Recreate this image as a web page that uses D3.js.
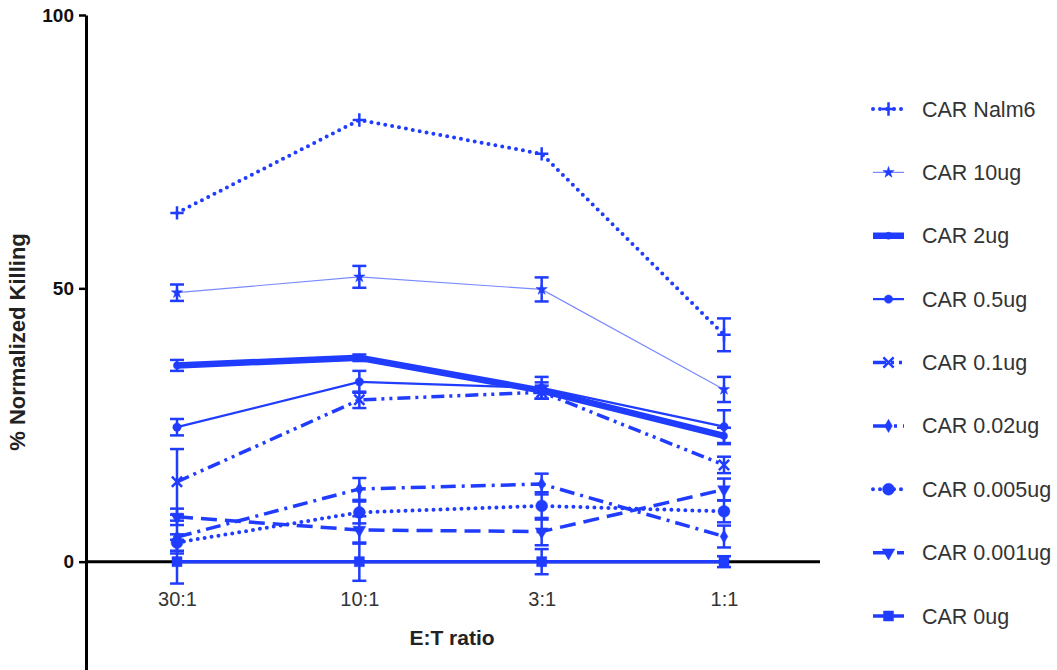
<!DOCTYPE html>
<html>
<head>
<meta charset="utf-8">
<script src="https://cdn.jsdelivr.net/npm/d3@7"></script>
<style>
  body { margin: 0; background: #fff; }
  text { font-family: "Liberation Sans", Arial, Helvetica, sans-serif; }
</style>
</head>
<body>
<div id="chart"></div>
<script>
// E:T ratios on the x axis
const categories = ["30:1", "10:1", "3:1", "1:1"];
const yTicks = [0, 50, 100];

// mean % normalized killing per series, and error (SEM) per point
const carNalm6 = [63.8, 80.8, 74.6, 41.5];
const carNalm6Err = [0, 0, 0, 3];
const car10ug = [49.2, 52.1, 49.8, 31.5];
const car10ugErr = [1.5, 2, 2.2, 2.3];
const car2ug = [35.9, 37.3, 31.3, 23.0];
const car2ugErr = [1, 0.6, 1.5, 1.5];
const car05ug = [24.6, 32.9, 31.8, 24.7];
const car05ugErr = [1.5, 2, 2, 3];
const car01ug = [14.6, 29.6, 31.0, 17.7];
const car01ugErr = [6, 1.5, 1.2, 1.5];
const car002ug = [4.5, 13.3, 14.2, 4.6];
const car002ugErr = [3, 2, 1.9, 2];
const car0005ug = [3.5, 9.0, 10.2, 9.2];
const car0005ugErr = [1.5, 2, 2.5, 2];
const car0001ug = [8.2, 5.8, 5.5, 13.2];
const car0001ugErr = [1.5, 2.5, 2.5, 2];
const car0ug = [0, 0, 0, 0];
const car0ugErr = [4, 3.5, 2.3, 1];

const names = ["CAR Nalm6", "CAR 10ug", "CAR 2ug", "CAR 0.5ug", "CAR 0.1ug",
               "CAR 0.02ug", "CAR 0.005ug", "CAR 0.001ug", "CAR 0ug"];
const values = [carNalm6, car10ug, car2ug, car05ug, car01ug, car002ug, car0005ug, car0001ug, car0ug];
const errors = [carNalm6Err, car10ugErr, car2ugErr, car05ugErr, car01ugErr, car002ugErr, car0005ugErr, car0001ugErr, car0ugErr];

const blue = "#1f3cff";

// line / marker look for each series (same order as names)
const styles = [
  { width: 4, dash: "0 7", cap: "round", sym: d3.symbolPlus, size: 60, stroke: true },
  { width: 1.2, dash: null, cap: "butt", sym: d3.symbolStar, size: 40, opacity: 0.6 },
  { width: 6.5, dash: null, cap: "butt", sym: d3.symbolCircle, size: 40 },
  { width: 2.2, dash: null, cap: "butt", sym: d3.symbolCircle, size: 55 },
  { width: 3.5, dash: "13 5 3 5 3 5", cap: "butt", sym: d3.symbolTimes, size: 70, stroke: true },
  { width: 3.5, dash: "15 6 3 6", cap: "butt", sym: d3.symbolDiamond, size: 50 },
  { width: 4, dash: "0 7", cap: "round", sym: d3.symbolCircle, size: 110 },
  { width: 3.5, dash: "16 8", cap: "butt", sym: d3.symbolTriangle, size: 70, rotate: 180 },
  { width: 3.5, dash: null, cap: "butt", sym: d3.symbolSquare, size: 100 }
];

const series = names.map((n, i) => ({
  name: n,
  points: categories.map((c, j) => ({ cat: c, v: values[i][j], e: errors[i][j] })),
  style: styles[i]
}));

const w = 1057, h = 670;

const svg = d3.select("#chart").append("svg")
  .attr("width", w)
  .attr("height", h)
  .style("background", "#fff");

const x = d3.scalePoint().domain(categories).range([177, 724]);
const y = d3.scaleLinear().domain([-20, 100]).range([671, 15]);

// x axis line at zero
svg.append("line")
  .attr("x1", 86).attr("x2", 820)
  .attr("y1", y(0)).attr("y2", y(0))
  .attr("stroke", "#000").attr("stroke-width", 3);

// y axis
const yAxis = svg.append("g")
  .attr("transform", "translate(86,0)")
  .call(d3.axisLeft(y).tickValues(yTicks).tickSize(7).tickSizeOuter(0).tickPadding(5));
yAxis.select(".domain").attr("stroke", "#000").attr("stroke-width", 3);
yAxis.selectAll(".tick line").attr("stroke", "#000").attr("stroke-width", 2.5);
yAxis.selectAll(".tick text")
  .attr("font-size", 19).attr("font-weight", "bold").attr("fill", "#111")
  .attr("font-family", "Liberation Sans, Arial, sans-serif");

// x category labels
const xAxis = svg.append("g")
  .attr("transform", `translate(0,${y(0)})`)
  .call(d3.axisBottom(x).tickSize(0).tickPadding(30));
xAxis.select(".domain").remove();
xAxis.selectAll(".tick text")
  .attr("font-size", 20).attr("fill", "#333")
  .attr("font-family", "Liberation Sans, Arial, sans-serif");

// axis titles
svg.append("text")
  .attr("x", 452).attr("y", 645)
  .attr("text-anchor", "middle")
  .attr("font-size", 21).attr("font-weight", "bold").attr("fill", "#222")
  .text("E:T ratio");

svg.append("text")
  .attr("transform", "translate(25,342) rotate(-90)")
  .attr("text-anchor", "middle")
  .attr("font-size", 22).attr("font-weight", "bold").attr("fill", "#222")
  .text("% Normalized Killing");

const line = d3.line().x(d => x(d.cat)).y(d => y(d.v));

function drawMarker(sel, st) {
  sel.attr("d", d3.symbol().type(st.sym).size(st.size))
    .attr("fill", st.stroke ? "none" : blue)
    .attr("stroke", blue)
    .attr("stroke-width", st.stroke ? 2.5 : 0.5);
}

const capW = 7;
series.forEach(s => {
  const g = svg.append("g");
  // error bars
  const eb = g.selectAll("g.err")
    .data(s.points.filter(p => p.e > 0))
    .enter().append("g")
    .attr("stroke", blue).attr("stroke-width", 2.5);
  eb.append("line")
    .attr("x1", d => x(d.cat)).attr("x2", d => x(d.cat))
    .attr("y1", d => y(d.v + d.e)).attr("y2", d => y(d.v - d.e));
  eb.append("line")
    .attr("x1", d => x(d.cat) - capW).attr("x2", d => x(d.cat) + capW)
    .attr("y1", d => y(d.v + d.e)).attr("y2", d => y(d.v + d.e));
  eb.append("line")
    .attr("x1", d => x(d.cat) - capW).attr("x2", d => x(d.cat) + capW)
    .attr("y1", d => y(d.v - d.e)).attr("y2", d => y(d.v - d.e));

  // line
  g.append("path")
    .datum(s.points)
    .attr("d", line)
    .attr("fill", "none")
    .attr("stroke", blue)
    .attr("stroke-opacity", s.style.opacity || 1)
    .attr("stroke-width", s.style.width)
    .attr("stroke-linecap", s.style.cap)
    .attr("stroke-dasharray", s.style.dash);

  // markers
  g.selectAll("path.mk")
    .data(s.points)
    .enter().append("path")
    .attr("class", "mk")
    .attr("transform", d => `translate(${x(d.cat)},${y(d.v)}) rotate(${s.style.rotate || 0})`)
    .call(drawMarker, s.style);
});

// legend
const legendY = d3.scaleLinear().domain([0, names.length - 1]).range([109, 616]);
const leg = svg.selectAll("g.legend")
  .data(series)
  .enter().append("g")
  .attr("class", "legend")
  .attr("transform", (d, i) => `translate(0,${legendY(i)})`);

leg.append("line")
  .attr("x1", 873).attr("x2", 904)
  .attr("y1", 0).attr("y2", 0)
  .attr("stroke", blue)
  .attr("stroke-opacity", d => d.style.opacity || 1)
  .attr("stroke-width", d => d.style.width)
  .attr("stroke-linecap", d => d.style.cap)
  .attr("stroke-dasharray", d => d.style.dash);

leg.append("path")
  .each(function(d) {
    d3.select(this)
      .attr("transform", `translate(888.5,0) rotate(${d.style.rotate || 0})`)
      .call(drawMarker, d.style);
  });

leg.append("text")
  .attr("x", 922)
  .attr("y", 0)
  .attr("dy", "0.35em")
  .attr("font-size", 21.5)
  .attr("fill", "#333")
  .text(d => d.name);
</script>
</body>
</html>
